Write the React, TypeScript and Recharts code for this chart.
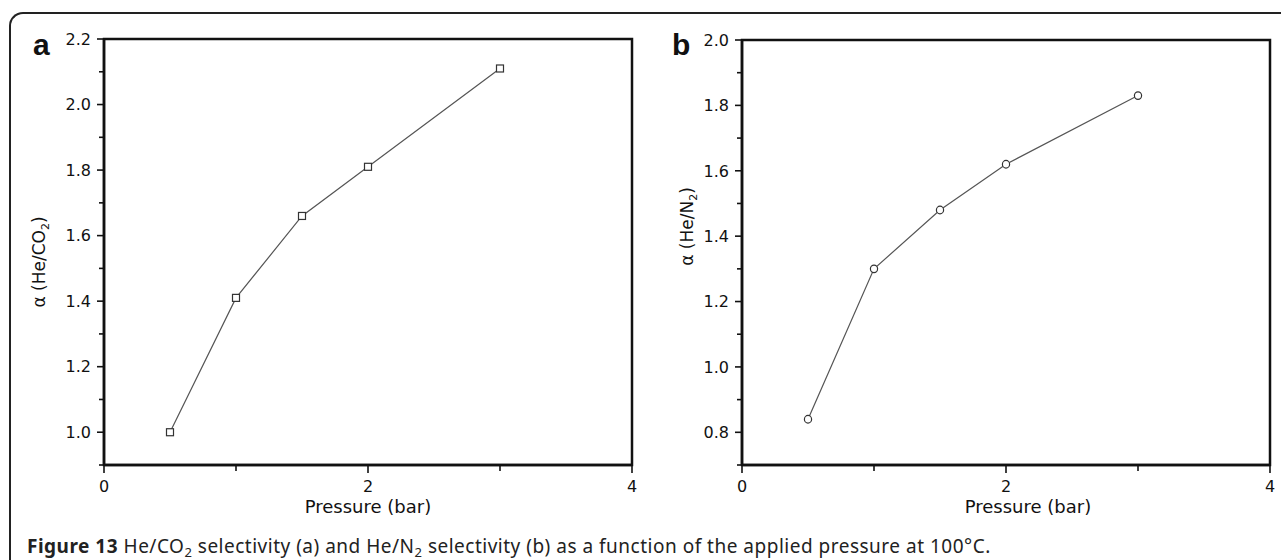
import React from "react"
import {
  LineChart,
  Line,
  XAxis,
  YAxis,
  ReferenceArea
} from "recharts"

// pressure (bar) and selectivities
const pressure = [0.5, 1, 1.5, 2, 3]
const heCo2 = [1.0, 1.41, 1.66, 1.81, 2.11]
const heN2 = [0.84, 1.3, 1.48, 1.62, 1.83]

const xTicks = [0, 1, 2, 3, 4]
const xMajor = [0, 2, 4]

const yTicksA = [0.9, 1.0, 1.1, 1.2, 1.3, 1.4, 1.5, 1.6, 1.7, 1.8, 1.9, 2.0, 2.1, 2.2]
const yMajorA = [1.0, 1.2, 1.4, 1.6, 1.8, 2.0, 2.2]
const yTicksB = [0.7, 0.8, 0.9, 1.0, 1.1, 1.2, 1.3, 1.4, 1.5, 1.6, 1.7, 1.8, 1.9, 2.0]
const yMajorB = [0.8, 1.0, 1.2, 1.4, 1.6, 1.8, 2.0]

const dataA = pressure.map((p, i) => ({ p, v: heCo2[i] }))
const dataB = pressure.map((p, i) => ({ p, v: heN2[i] }))

const INK = "#111"
const TICK_FONT = "'DejaVu Sans', sans-serif"

const isMajor = (list: number[], v: number) =>
  list.some(m => Math.abs(m - v) < 1e-6)

function makeYTick(majors: number[]) {
  return (props: any) => {
    const { x, y, payload } = props
    const major = isMajor(majors, payload.value)
    return (
      <g>
        <line x1={x} x2={x - (major ? 7 : 5)} y1={y} y2={y} stroke={INK} strokeWidth={1.6} />
        {major && (
          <text x={x - 13} y={y} dy="0.36em" textAnchor="end" fontSize={16}
            fontFamily={TICK_FONT} fill="#111">
            {payload.value.toFixed(1)}
          </text>
        )}
      </g>
    )
  }
}

function xTick(props: any) {
  const { x, y, payload } = props
  const major = isMajor(xMajor, payload.value)
  return (
    <g>
      <line x1={x} x2={x} y1={y} y2={y + (major ? 8 : 6)} stroke={INK} strokeWidth={1.6} />
      {major && (
        <text x={x} y={y + 27} textAnchor="middle" fontSize={16}
          fontFamily={TICK_FONT} fill="#111">
          {payload.value}
        </text>
      )}
    </g>
  )
}

function squareDot(props: any) {
  const { cx, cy, index } = props
  return (
    <rect key={index} x={cx - 3.5} y={cy - 3.5} width={7} height={7}
      fill="#fff" stroke="#333" strokeWidth={1.2} />
  )
}

function circleDot(props: any) {
  const { cx, cy, index } = props
  return (
    <ellipse key={index} cx={cx} cy={cy} rx={3.6} ry={3.8}
      fill="#fff" stroke="#333" strokeWidth={1.2} />
  )
}

type PanelProps = {
  left: number
  width: number
  data: { p: number; v: number }[]
  domain: [number, number]
  ticks: number[]
  majors: number[]
  yAxisWidth: number
  marginTop: number
  marginRight: number
  gas: string
  labelX: number
  labelDy: number
  xLabelDx: number
  dot: (p: any) => React.ReactElement
}

function Panel(props: PanelProps) {
  const {
    left, width, data, domain, ticks, majors, yAxisWidth,
    marginTop, marginRight, gas, labelX, labelDy, xLabelDx, dot
  } = props

  const yTitle = (p: any) => {
    const vb = p.viewBox
    const cy = vb.y + vb.height / 2 + labelDy
    return (
      <text
        x={labelX}
        y={cy + 5}
        transform={`rotate(-90, ${labelX}, ${cy})`}
        textAnchor="middle"
        fontSize={17}
        fontFamily={TICK_FONT}
        fill="#111"
      >
        α (He/{gas}
        <tspan fontSize={11} dy={4}>2</tspan>
        <tspan dy={-4}>)</tspan>
      </text>
    )
  }

  const xTitle = (p: any) => {
    const vb = p.viewBox
    return (
      <text
        x={vb.x + vb.width / 2 + xLabelDx}
        y={vb.y + 48}
        textAnchor="middle"
        fontSize={18}
        fontFamily={TICK_FONT}
        fill="#111"
      >
        Pressure (bar)
      </text>
    )
  }

  return (
    <div style={{ position: "absolute", left, top: 0 }}>
      <LineChart
        width={width}
        height={530}
        data={data}
        margin={{ top: marginTop, right: marginRight, bottom: 0, left: 0 }}
      >
        <XAxis
          dataKey="p"
          type="number"
          domain={[0, 4]}
          ticks={xTicks}
          interval={0}
          height={65}
          tickSize={0}
          tickMargin={0}
          tickLine={false}
          axisLine={{ stroke: INK, strokeWidth: 2.5 }}
          tick={xTick}
          label={xTitle}
        />
        <YAxis
          type="number"
          domain={domain}
          ticks={ticks}
          interval={0}
          width={yAxisWidth}
          tickSize={0}
          tickMargin={0}
          tickLine={false}
          axisLine={{ stroke: INK, strokeWidth: 2.5 }}
          tick={makeYTick(majors)}
          label={yTitle}
        />
        <ReferenceArea
          x1={0}
          x2={4}
          y1={domain[0]}
          y2={domain[1]}
          fill="none"
          stroke={INK}
          strokeWidth={2.5}
          fillOpacity={0}
          strokeOpacity={1}
        />
        <Line
          type="linear"
          dataKey="v"
          stroke="#555"
          strokeWidth={1.2}
          dot={dot}
          activeDot={false}
          isAnimationActive={false}
        />
      </LineChart>
    </div>
  )
}

export default function App() {
  return (
    <div
      style={{
        position: "absolute",
        left: 0,
        top: 0,
        width: 1281,
        height: 560,
        overflow: "hidden",
        background: "#fff"
      }}
    >
      <div
        style={{
          position: "absolute",
          left: 9,
          top: 12,
          width: 1300,
          height: 600,
          borderTop: "2px solid #222",
          borderLeft: "2px solid #222",
          borderTopLeftRadius: 14
        }}
      />
      <Panel
        left={0}
        width={640}
        data={dataA}
        domain={[0.9, 2.2]}
        ticks={yTicksA}
        majors={yMajorA}
        yAxisWidth={104}
        marginTop={39}
        marginRight={8}
        gas="CO"
        labelX={40}
        labelDy={10}
        xLabelDx={0}
        dot={squareDot}
      />
      <Panel
        left={640}
        width={641}
        data={dataB}
        domain={[0.7, 2.0]}
        ticks={yTicksB}
        majors={yMajorB}
        yAxisWidth={102}
        marginTop={40}
        marginRight={11}
        gas="N"
        labelX={48}
        labelDy={-26}
        xLabelDx={22}
        dot={circleDot}
      />
      <svg
        width={1281}
        height={560}
        style={{ position: "absolute", left: 0, top: 0, pointerEvents: "none" }}
      >
        <text x={33} y={55} fontSize={30} fontWeight="bold"
          fontFamily="'Liberation Sans', Arial, sans-serif" fill="#111">a</text>
        <text x={672} y={55} fontSize={30} fontWeight="bold"
          fontFamily="'Liberation Sans', Arial, sans-serif" fill="#111">b</text>
      </svg>
      <div
        style={{
          position: "absolute",
          left: 27,
          top: 537,
          fontFamily: "'Noto Sans', sans-serif",
          fontSize: 19,
          lineHeight: "19px",
          letterSpacing: 0.5,
          color: "#222",
          whiteSpace: "nowrap"
        }}
      >
        <b>Figure 13</b> He/CO
        <span style={{ fontSize: 13, position: "relative", top: 4 }}>2</span>
        {" "}selectivity (a) and He/N
        <span style={{ fontSize: 13, position: "relative", top: 4 }}>2</span>
        {" "}selectivity (b) as a function of the applied pressure at 100°C.
      </div>
    </div>
  )
}
